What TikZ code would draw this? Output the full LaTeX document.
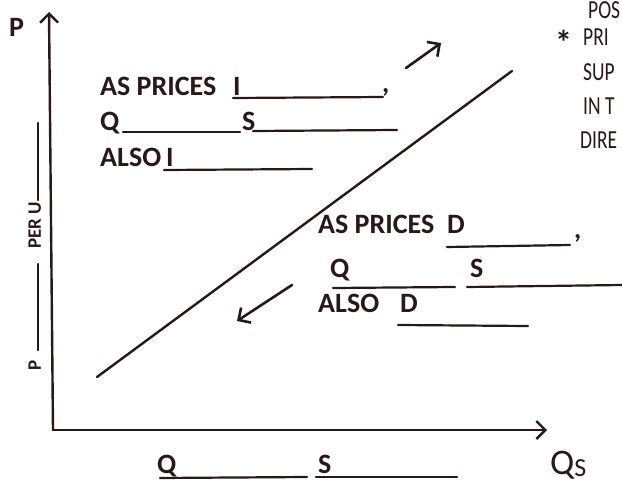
\documentclass[tikz,border=0pt]{standalone}
\usepackage{fontspec}
\setmainfont{Carlito}
\usetikzlibrary{arrows.meta}
\definecolor{ink}{RGB}{40,24,24}
\tikzset{
  txt/.style={anchor=base west, inner sep=0pt, text=ink, font=\fontsize{28}{30}\selectfont\bfseries},
  note/.style={anchor=base west, inner sep=0pt, text=ink, font=\fontsize{26}{28}\selectfont},
  small/.style={anchor=base west, inner sep=0pt, text=ink, font=\fontsize{19}{20}\selectfont\bfseries},
  blank/.style={draw=ink, line width=2.2pt, line cap=round},
  axis/.style={draw=ink, line width=2.4pt, line cap=round, -{Straight Barb[length=9pt,width=18pt,line width=2.4pt]}},
  mv/.style={draw=ink, line width=2.6pt, line cap=round, -{Straight Barb[length=9pt,width=18pt,line width=2.6pt]}},
  curve/.style={draw=ink, line width=2.4pt, line cap=round}
}
\begin{document}
\begin{tikzpicture}[x=1pt,y=-1pt]
\clip (0,0) rectangle (622,482);
\fill[white] (0,0) rectangle (622,482);
% axes
\coordinate (O) at (53,430);
\coordinate (ytop) at (49,12);
\coordinate (xend) at (547,430);
\draw[axis] (O) -- (ytop);
\draw[axis] (O) -- (xend);
\node[txt] (P) at (9,36) {P};
\node[txt, font=\fontsize{36}{36}\selectfont] (Qs) at (550,474) {Q\raisebox{-2pt}{\fontsize{26}{26}\selectfont S}};
% left rotated label
\node[small, rotate=90] (lp) at (41,371) {P};
\draw[blank] (38,350) -- (38,264);
\node[small, rotate=90] (peru) at (41,249) {PER U};
\draw[blank] (38,200) -- (38,123);
% supply line
\coordinate (s1) at (97,377);
\coordinate (s2) at (512,71);
\draw[curve] (s1) -- (s2);
% movement arrows
\coordinate (u1) at (406,68);
\coordinate (u2) at (441,43);
\draw[mv] (u1) -- (u2);
\coordinate (d1) at (292,285);
\coordinate (d2) at (237,321);
\draw[mv] (d1) -- (d2);
% block 1
\node[txt] (t1) at (100,95) {AS PRICES};
\node[txt] (t1i) at (233,95) {I};
\draw[blank] (233,98) -- (383,97);
\node[txt] (c1) at (382,92) {,};
\node[txt] (t2q) at (100,130) {Q};
\draw[blank] (123,132) -- (240,132);
\node[txt] (t2s) at (242,130) {S};
\draw[blank] (253,131) -- (397,130);
\node[txt] (t3) at (100,166) {ALSO};
\node[txt] (t3i) at (166,166) {I};
\draw[blank] (164,170) -- (312,169);
% block 2
\node[txt] (b1) at (318,233) {AS PRICES};
\node[txt] (b1d) at (447,233) {D};
\draw[blank] (447,247) -- (570,245);
\node[txt] (c2) at (574,238) {,};
\node[txt] (b2q) at (330,277) {Q};
\draw[blank] (333,288) -- (455,287);
\node[txt] (b2s) at (470,277) {S};
\draw[blank] (467,287) -- (622,285);
\node[txt] (b3) at (318,312) {ALSO};
\node[txt] (b3d) at (400,312) {D};
\draw[blank] (398,325) -- (528,326);
% bottom
\node[txt] (bq) at (157,473) {Q};
\draw[blank] (160,478) -- (307,477);
\node[txt] (bs) at (318,473) {S};
\draw[blank] (316,477) -- (457,477);
% top right note (cut off at the edge, as in the reference)
\node[note] (n0) at (588,18) {\scalebox{0.75}[1]{POS}};
\node[note, font=\fontsize{34}{34}\selectfont\bfseries] (n1a) at (555,54) {*};
\node[note] (n1) at (583,45) {\scalebox{0.75}[1]{PRI}};
\node[note] (n2) at (583,80) {\scalebox{0.75}[1]{SUP}};
\node[note] (n3) at (583,114) {\scalebox{0.75}[1]{IN T}};
\node[note] (n4) at (580,148) {\scalebox{0.75}[1]{DIRE}};
\end{tikzpicture}
\end{document}
